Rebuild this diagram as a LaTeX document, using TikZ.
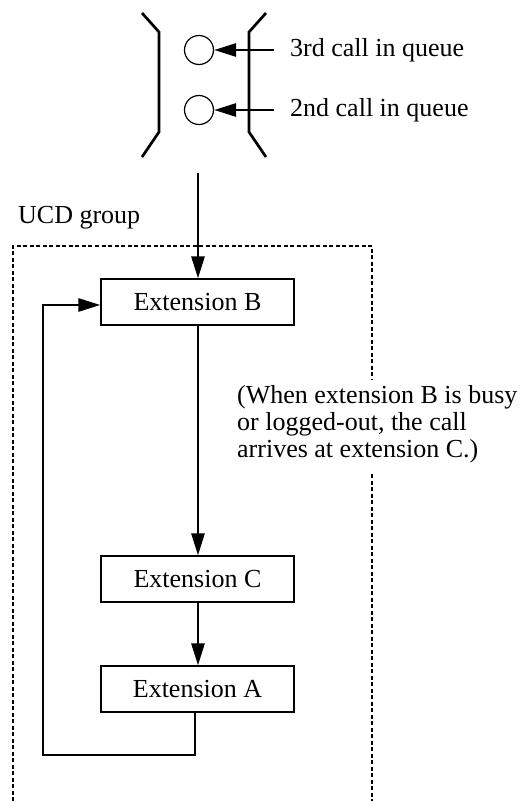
\documentclass[tikz,border=0pt]{standalone}
\usepackage{fontspec}
\setmainfont{Liberation Serif}
\usetikzlibrary{arrows.meta}
\tikzset{
  lbl/.style={font=\fontsize{26}{27}\selectfont, inner sep=0pt},
  extbox/.style={draw, line width=1.2pt, minimum width=193pt, minimum height=46pt, inner sep=0pt, font=\fontsize{26}{27}\selectfont},
  bracket/.style={line width=2.7pt},
  callcircle/.style={draw, circle, line width=1.2pt, minimum size=29pt, inner sep=0pt},
  arr/.style={line width=2.7pt, -{Triangle[length=22pt,width=13pt]}},
  plain/.style={line width=2.7pt},
  frame/.style={line width=2pt, dash pattern=on 4pt off 2.5pt}
}
\begin{document}
\begin{tikzpicture}[x=1pt,y=-1pt]
\useasboundingbox (0,0) rectangle (525,801);
% queue brackets
\draw[bracket] (142,13) -- (159,32) -- (159,132) -- (142,157);
\draw[bracket] (266,13) -- (249,32) -- (249,132) -- (266,157);
% calls in queue
\node[callcircle] (c3) at (199,50) {};
\node[callcircle] (c2) at (199,110) {};
\node[lbl, anchor=west] (t3) at (290,50) {3rd call in queue};
\node[lbl, anchor=west] (t2) at (290,110) {2nd call in queue};
\draw[arr, shorten <=16pt] (t3.west) -- (c3);
\draw[arr, shorten <=16pt] (t2.west) -- (c2);
\coordinate (qout) at (198,173);
% UCD group frame
\node[lbl, anchor=base west] (ucd) at (18,223) {UCD group};
\draw[frame] (13,801) -- (13,246) -- (372,246) -- (372,380);
\draw[frame] (372,474) -- (372,801);
% extensions
\node[extbox] (B) at (197.5,302) {Extension B};
\node[extbox] (C) at (197.5,579) {Extension C};
\node[extbox] (A) at (197.5,689) {Extension A};
% note
\node[lbl, anchor=base west] (n1) at (237,403) {(When extension B is busy};
\node[lbl, anchor=base west] (n2) at (237,430) {or logged-out, the call};
\node[lbl, anchor=base west] (n3) at (237,457) {arrives at extension C.)};
% connectors
\draw[arr] (qout) -- (qout |- B.north);
\draw[arr] (B.south -| 198,0) -- (C.north -| 198,0);
\draw[arr] (C.south -| 198,0) -- (A.north -| 198,0);
\draw[arr] (A.south -| 195,0) -- (195,755) -- (43,755) -- (43,305) -- (B.west |- 0,305);
\end{tikzpicture}
\end{document}
